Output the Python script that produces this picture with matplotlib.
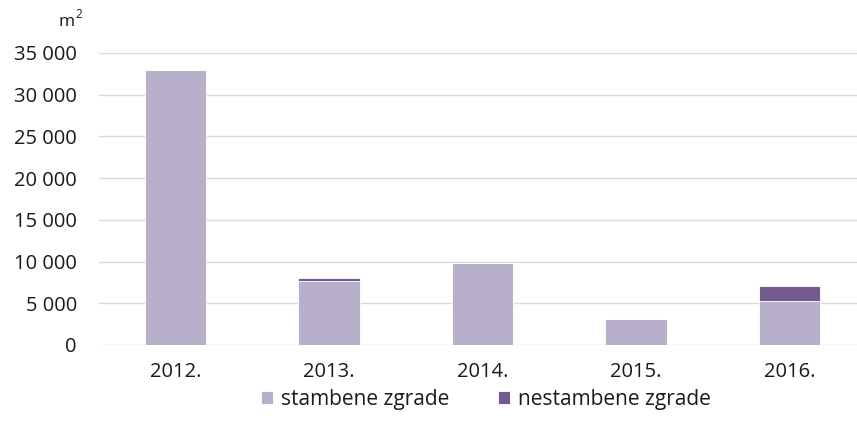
import matplotlib
matplotlib.use('Agg')
import numpy as np
import matplotlib.pyplot as plt
from matplotlib.ticker import FuncFormatter

# data
years = ['2012.', '2013.', '2014.', '2015.', '2016.']
stambene = [33000, 7700, 9800, 3100, 5300]
nestambene = [0, 350, 0, 0, 1800]
series_names = ['stambene zgrade', 'nestambene zgrade']

light = '#b8b0cb'
dark = '#735a91'

plt.rcParams['font.family'] = ['Open Sans', 'DejaVu Sans']

fig = plt.figure(figsize=(8.57, 4.32), dpi=100)
ax = fig.add_axes([99 / 857, 87 / 432, 758 / 857, 292 / 432])

x = np.arange(len(years))
ax.bar(x, stambene, width=0.4, color=light, edgecolor='white', linewidth=0.6,
       label=series_names[0], zorder=3)
ax.bar(x, nestambene, width=0.4, bottom=stambene, color=dark, edgecolor='white',
       linewidth=0.6, label=series_names[1], zorder=3)

ax.set_xlim(-0.5, 4.44)
ax.set_ylim(0, 35000)
ax.set_yticks(np.arange(0, 35001, 5000))
ax.yaxis.set_major_formatter(FuncFormatter(lambda v, p: f'{v:,.0f}'.replace(',', ' ')))
ax.set_xticks(x)
ax.set_xticklabels(years)

ax.grid(axis='y', color='#d9d9d9', linewidth=1.0, zorder=0)
ax.set_axisbelow(True)
for s in ax.spines.values():
    s.set_visible(False)
ax.tick_params(axis='y', length=0, pad=16, labelsize=14.5, colors='#1a1a1a')
ax.tick_params(axis='x', length=0, pad=12.5, labelsize=14.5, colors='#1a1a1a')

# unit label, m with a raised 2
fig.text(75 / 857, 1 - 22 / 432, 'm', ha='right', va='center', fontsize=12.5, color='#1a1a1a')
fig.text(75 / 857, 1 - 15 / 432, '2', ha='left', va='center', fontsize=8.5, color='#1a1a1a')

fig.legend(loc='center', bbox_to_anchor=(0.567, 0.075), ncol=2, frameon=False,
           fontsize=15, handlelength=0.6, handleheight=0.6, handletextpad=0.4,
           columnspacing=2.3, labelcolor='#1a1a1a')

fig.savefig('out.png', dpi=100)
